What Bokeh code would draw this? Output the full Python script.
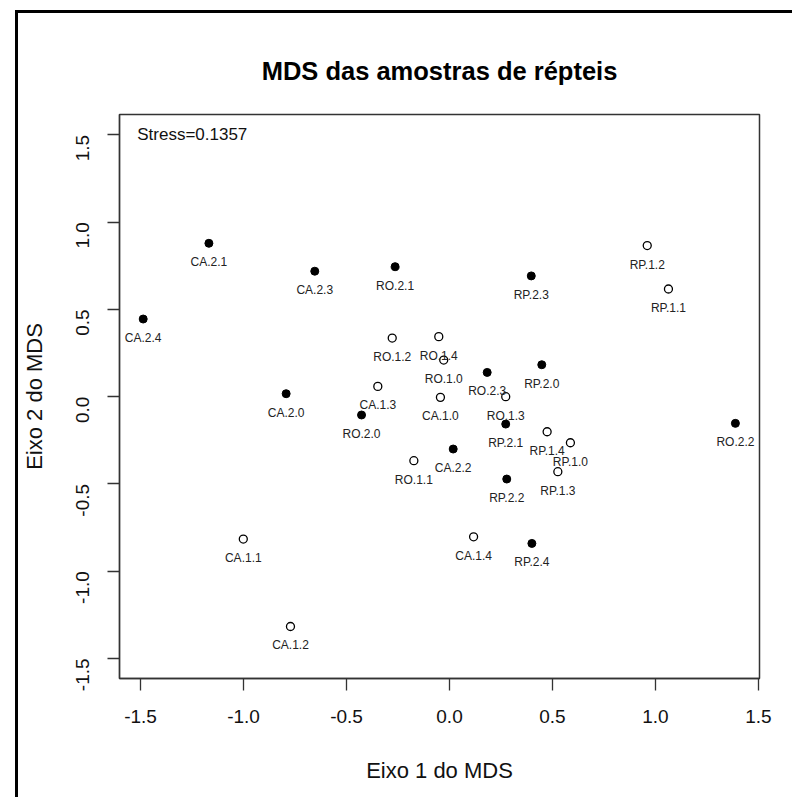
import math
from bokeh.plotting import figure
from bokeh.models import ColumnDataSource, Range1d, FixedTicker, PrintfTickFormatter, Label
from bokeh.core.properties import value
from bokeh.embed import file_html
from bokeh.resources import INLINE

# ---- data ----
open_names = ["CA.1.0", "CA.1.1", "CA.1.2", "CA.1.3", "CA.1.4",
              "RO.1.0", "RO.1.1", "RO.1.2", "RO.1.3", "RO.1.4",
              "RP.1.0", "RP.1.1", "RP.1.2", "RP.1.3", "RP.1.4"]
open_x = [-0.044, -1.001, -0.772, -0.348, 0.117,
          -0.028, -0.173, -0.278, 0.273, -0.052,
          0.587, 1.063, 0.960, 0.526, 0.474]
open_y = [-0.004, -0.816, -1.317, 0.059, -0.803,
          0.210, -0.367, 0.336, 0.000, 0.344,
          -0.264, 0.617, 0.866, -0.430, -0.201]

filled_names = ["CA.2.0", "CA.2.1", "CA.2.2", "CA.2.3", "CA.2.4",
                "RO.2.0", "RO.2.1", "RO.2.2", "RO.2.3",
                "RP.2.0", "RP.2.1", "RP.2.2", "RP.2.3", "RP.2.4"]
filled_x = [-0.793, -1.168, 0.018, -0.654, -1.487,
            -0.427, -0.264, 1.388, 0.183,
            0.448, 0.273, 0.278, 0.397, 0.400]
filled_y = [0.017, 0.879, -0.300, 0.719, 0.445,
            -0.105, 0.745, -0.153, 0.139,
            0.183, -0.157, -0.472, 0.692, -0.841]

ticks = [-1.5, -1.0, -0.5, 0.0, 0.5, 1.0, 1.5]
title_text = "MDS das amostras de répteis"
xlab = "Eixo 1 do MDS"
ylab = "Eixo 2 do MDS"
stress_text = "Stress=0.1357"

FONT = "Liberation Sans"

p = figure(width=774, height=784, output_backend="svg", toolbar_location=None,
           x_range=Range1d(-1.602, 1.505), y_range=Range1d(-1.615, 1.617),
           frame_width=640, frame_height=564,
           min_border_left=101, min_border_top=101, min_border_right=33, min_border_bottom=119,
           title=title_text)
# outer frame of the whole picture (only its left and top edges are visible)
p.styles = {"border-left": "3px solid black", "border-top": "3px solid black",
            "margin-left": "15px", "margin-top": "10px"}

p.xgrid.visible = False
p.ygrid.visible = False
p.background_fill_color = "white"
p.border_fill_color = "white"
p.outline_line_color = "#333333"
p.outline_line_width = 1.5

p.title.text_font = FONT
p.title.text_font_size = "25.5px"
p.title.text_font_style = "bold"
p.title.align = "center"
p.title.text_color = "black"
p.title.standoff = 59

for ax in (p.xaxis[0], p.yaxis[0]):
    ax.ticker = FixedTicker(ticks=ticks)
    ax.formatter = PrintfTickFormatter(format="%.1f")
    ax.minor_tick_line_color = None
    ax.major_tick_in = 0
    ax.major_tick_out = 12
    ax.major_tick_line_color = "#333333"
    ax.major_tick_line_width = 1.3
    ax.axis_line_color = "#333333"
    ax.axis_line_width = 1.3
    ax.major_label_text_font = FONT
    ax.major_label_text_font_size = "19px"
    ax.major_label_text_color = "#111111"
    ax.axis_label_text_font = FONT
    ax.axis_label_text_font_size = "22px"
    ax.axis_label_text_font_style = "normal"
    ax.axis_label_text_color = "#111111"

p.xaxis[0].axis_label = xlab
p.xaxis[0].major_label_standoff = 19
p.xaxis[0].axis_label_standoff = 32
p.yaxis[0].axis_label = ylab
p.yaxis[0].major_label_orientation = math.pi / 2
p.yaxis[0].major_label_standoff = 25
p.yaxis[0].axis_label_standoff = 20

src_open = ColumnDataSource(dict(x=open_x, y=open_y, name=open_names))
src_fill = ColumnDataSource(dict(x=filled_x, y=filled_y, name=filled_names))

p.scatter("x", "y", source=src_open, size=8, marker="circle",
          fill_color="white", line_color="black", line_width=1.3)
p.scatter("x", "y", source=src_fill, size=8, marker="circle",
          fill_color="black", line_color="black", line_width=1)

for src in (src_open, src_fill):
    p.text("x", "y", text="name", source=src, text_font=value(FONT),
           text_font_size="12px", text_align="center", text_baseline="middle",
           y_offset=19, text_color="#222222")

p.add_layout(Label(x=-1.516, y=1.5, text=stress_text, text_font=FONT,
                   text_font_size="17px", text_baseline="middle", text_align="left",
                   text_color="#111111"))

open("out.html", "w").write(file_html(p, INLINE))
